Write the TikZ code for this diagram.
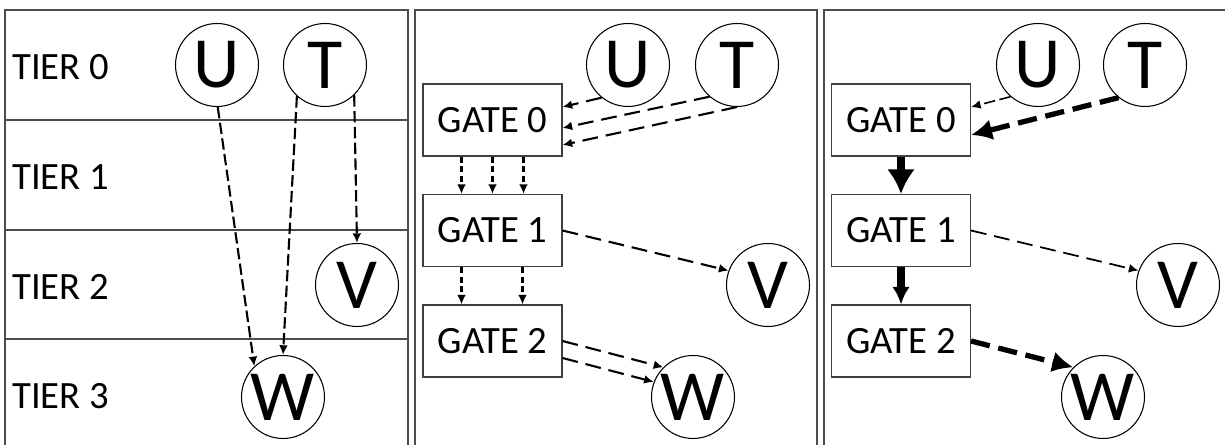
\documentclass[tikz,border=0pt]{standalone}
\usepackage{fontspec}
\setmainfont{Carlito}
\usetikzlibrary{arrows.meta}

\begin{document}
\begin{tikzpicture}[x=0.02cm,y=-0.02cm]
\tikzstyle panel=[draw=black!70,line width=0.6pt]
\tikzstyle tier=[anchor=west,inner sep=0pt,font=\fontsize{22}{26}\selectfont]
\tikzstyle var=[draw,circle,line width=0.6pt,minimum size=1.66cm,inner sep=0pt,font=\fontsize{41}{44}\selectfont]
\tikzstyle gate=[draw=black!75,rectangle,line width=0.6pt,minimum width=2.78cm,minimum height=1.44cm,inner sep=0pt,font=\fontsize{22}{26}\selectfont]
\tikzstyle dep=[-{Latex[length=5.5pt,width=5pt]},line width=1.2pt,dash pattern=on 6.5pt off 2.5pt]
\tikzstyle longdep=[style=dep,dash pattern=on 9pt off 4.5pt]
\tikzstyle wire=[style=dep,dash pattern=on 3.5pt off 2pt]
\tikzstyle heavy=[line width=3pt,dash pattern=on 11pt off 5pt,-{Latex[length=12pt,width=12pt]}]
\useasboundingbox (0,0) rectangle (1225,445);

% frames
\draw[style=panel] (5,450) -- (5,10) -- (408,10) -- (408,450);
\draw[style=panel] (415,450) -- (415,10) -- (817,10) -- (817,450);
\draw[style=panel] (824,450) -- (824,10) -- (1226,10) -- (1226,450);

% tiers
\foreach \y in {120,230,339}
  \draw[style=panel] (5,\y) -- (408,\y);
\foreach \i/\y in {0/67,1/177,2/287,3/396}
  \node[tier] (tier\i) at (12,\y) {TIER \i};

\node[var] (u1) at (217,65) {U};
\node[var] (t1) at (325,65) {T};
\node[var] (v1) at (357,285) {V};
\node[var] (w1) at (283,397) {W};

\draw[dep] (u1.-89) -- (w1.133);
\draw[dep] (t1.228) -- (w1.90);
\draw[dep] (t1.-46) -- (v1.90);

% gates
\node[var] (u2) at (628,65) {U};
\node[var] (t2) at (737,65) {T};
\node[var] (v2) at (768,285) {V};
\node[var] (w2) at (693,397) {W};
\node[gate] (g20) at (492.5,120) {GATE 0};
\node[gate] (g21) at (492.5,230.5) {GATE 1};
\node[gate] (g22) at (492.5,341) {GATE 2};

\draw[longdep] (u2.231) -- ([yshift=0.26cm]g20.east);
\draw[longdep] (t2.229) -- ([yshift=-0.16cm]g20.east);
\draw[longdep] (t2.south) -- ([yshift=-0.5cm]g20.east);
\foreach \dx in {-0.62,0,0.62}
  \draw[wire] ([xshift=\dx cm]g20.south) -- ([xshift=\dx cm]g21.north);
\foreach \dx in {-0.62,0.6}
  \draw[wire] ([xshift=\dx cm]g21.south) -- ([xshift=\dx cm]g22.north);
\draw[longdep] (g21.east) -- (v2.160);
\draw[longdep] (g22.east) -- (w2.135);
\draw[longdep] ([yshift=-0.34cm]g22.east) -- (w2.159);

% merged gates
\node[var] (u3) at (1038,65) {U};
\node[var] (t3) at (1145,65) {T};
\node[var] (v3) at (1178,285) {V};
\node[var] (w3) at (1103,397) {W};
\node[gate] (g30) at (901,120) {GATE 0};
\node[gate] (g31) at (901,230.5) {GATE 1};
\node[gate] (g32) at (901,341) {GATE 2};

\draw[dep,line width=0.9pt] (u3.229) -- ([yshift=0.26cm]g30.east);
\draw[heavy] (t3.231) -- ([yshift=-0.3cm]g30.east);
\draw[line width=5pt,-{Latex[length=14pt,width=16pt]}] (g30) -- (g31);
\draw[line width=4pt,-{Latex[length=10pt,width=10pt]}] (g31) -- (g32);
\draw[longdep,line width=1pt] (g31.east) -- (v3.160);
\draw[heavy] (g32.east) -- (w3.135);
\end{tikzpicture}
\end{document}
